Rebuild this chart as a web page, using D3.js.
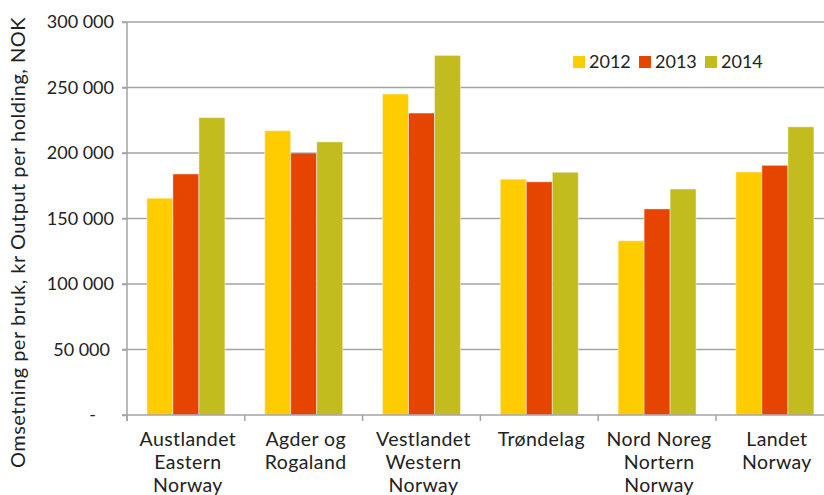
<!DOCTYPE html>
<html>
<head>
<meta charset="utf-8">
<script src="https://cdn.jsdelivr.net/npm/d3@7"></script>
<style>
  body { margin: 0; background: #fff; }
  svg text { font-family: Lato, "Open Sans", sans-serif; fill: #222; }
</style>
</head>
<body>
<div id="chart"></div>
<script>
// Regionen (zeilenweise Beschriftung)
var categories = ['Austlandet', 'Agder', 'Vestlandet', 'Trondelag', 'NordNoreg', 'Landet'];
var categoryLabels = [
    ['Austlandet', 'Eastern', 'Norway'],
    ['Agder og', 'Rogaland'],
    ['Vestlandet', 'Western', 'Norway'],
    ['Trøndelag'],
    ['Nord Noreg', 'Nortern', 'Norway'],
    ['Landet', 'Norway']
];
var years = ['2012', '2013', '2014'];

// Omsetning per bruk, kr
var values2012 = [165500, 217000, 245000, 180000, 133000, 185500];
var values2013 = [184000, 200000, 230500, 178000, 157300, 190600];
var values2014 = [227000, 208500, 274500, 185300, 172500, 220000];

var yTicks = [0, 50000, 100000, 150000, 200000, 250000, 300000];

var width = 824;
var height = 495;
var marginLeft = 127, marginTop = 22, plotH = 393;
var step = 117.8;

var colors = d3.scaleOrdinal()
    .domain(years)
    .range(['#ffcc00', '#e54500', '#c2bc1f']);

var seriesByYear = {'2012': values2012, '2013': values2013, '2014': values2014};

var svg = d3.select('#chart').append('svg')
    .attr('width', width)
    .attr('height', height);

var x = d3.scaleBand()
    .domain(categories)
    .range([marginLeft, marginLeft + step * categories.length])
    .paddingInner(0)
    .paddingOuter(0);

var xInner = d3.scaleBand()
    .domain(years)
    .range([0, x.bandwidth()])
    .paddingInner(0)
    .paddingOuter(0.765);

var y = d3.scaleLinear()
    .domain([0, 300000])
    .range([marginTop + plotH, marginTop]);

var locale = d3.formatLocale({decimal: ',', thousands: ' ', grouping: [3], currency: ['', '']});
var fmt = locale.format(',');

// Gitterlinien
svg.append('g')
    .selectAll('line')
    .data(yTicks.slice(1))
    .enter().append('line')
    .attr('x1', marginLeft - 5)
    .attr('x2', width)
    .attr('y1', function (d) { return y(d); })
    .attr('y2', function (d) { return y(d); })
    .attr('stroke', '#a3a3a6')
    .attr('stroke-width', 1.5);

// Balken
var groups = svg.append('g')
    .selectAll('g')
    .data(categories)
    .enter().append('g')
    .attr('transform', function (d) { return 'translate(' + x(d) + ',0)'; });

groups.selectAll('rect')
    .data(function (c, i) {
        return years.map(function (yr) { return {year: yr, value: seriesByYear[yr][i]}; });
    })
    .enter().append('rect')
    .attr('x', function (d) { return xInner(d.year); })
    .attr('y', function (d) { return y(d.value); })
    .attr('width', xInner.bandwidth())
    .attr('height', function (d) { return y(0) - y(d.value); })
    .attr('fill', function (d) { return colors(d.year); })
    .attr('stroke', 'rgba(255,255,255,0.45)')
    .attr('stroke-width', 1);

// y-Achse
var yAxis = svg.append('g')
    .attr('transform', 'translate(' + marginLeft + ',0)')
    .call(d3.axisLeft(y)
        .tickValues(yTicks)
        .tickSize(5)
        .tickPadding(8)
        .tickFormat(function (d) { return d === 0 ? '-' : fmt(d); }));
yAxis.select('.domain').attr('stroke', '#a3a3a6').attr('stroke-width', 1.5)
    .attr('d', 'M0,' + (y(0) + 6) + 'V' + y(300000));
yAxis.selectAll('.tick line').attr('stroke', '#a3a3a6').attr('stroke-width', 1.5);
yAxis.selectAll('.tick text')
    .style('font-size', '18px')
    .style('font-family', 'Lato, sans-serif')
    .attr('fill', '#222')
    .attr('dx', function (d) { return d === 0 ? -18 : (d === 50000 ? -4 : 0); });

// x-Achse
svg.append('line')
    .attr('x1', marginLeft - 5)
    .attr('x2', width)
    .attr('y1', y(0))
    .attr('y2', y(0))
    .attr('stroke', '#a3a3a6')
    .attr('stroke-width', 1.5);

svg.append('g')
    .selectAll('line')
    .data(categories)
    .enter().append('line')
    .attr('x1', function (d) { return x(d); })
    .attr('x2', function (d) { return x(d); })
    .attr('y1', y(0))
    .attr('y2', y(0) + 6)
    .attr('stroke', '#a3a3a6')
    .attr('stroke-width', 1.5);

var labels = svg.append('g')
    .selectAll('text')
    .data(categories)
    .enter().append('text')
    .attr('text-anchor', 'middle')
    .style('font-size', '19.5px')
    .style('letter-spacing', '0.4px');

labels.selectAll('tspan')
    .data(function (c, i) { return categoryLabels[i]; })
    .enter().append('tspan')
    .attr('x', function () {
        var c = d3.select(this.parentNode).datum();
        return x(c) + x.bandwidth() / 2 + 2;
    })
    .attr('y', function (d, i) { return 446 + i * 23; })
    .text(function (d) { return d; });

// Achsentitel
svg.append('text')
    .attr('transform', 'translate(25,' + (marginTop + plotH / 2 + 24) + ') rotate(-90)')
    .attr('text-anchor', 'middle')
    .style('font-size', '20px')
    .style('letter-spacing', '0.5px')
    .text('Omsetning per bruk, kr Output per holding, NOK');

// Legende
var legendX = [573, 639, 705];
var legend = svg.append('g')
    .selectAll('g')
    .data(years)
    .enter().append('g')
    .attr('transform', function (d, i) { return 'translate(' + legendX[i] + ',56)'; });

legend.append('rect')
    .attr('width', 12)
    .attr('height', 12)
    .attr('fill', function (d) { return colors(d); });

legend.append('text')
    .attr('x', 16)
    .attr('y', 12)
    .style('font-size', '18px')
    .text(function (d) { return d; });
</script>
</body>
</html>
